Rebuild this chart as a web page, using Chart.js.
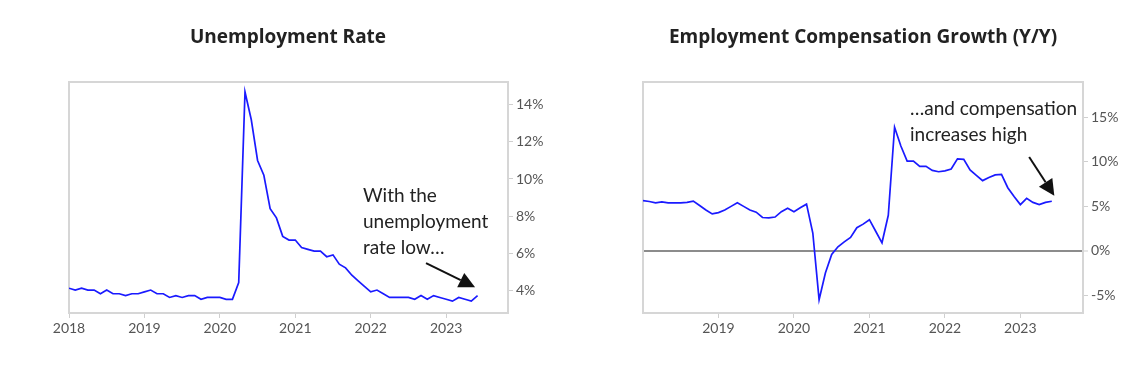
<!DOCTYPE html>
<html><head><meta charset="utf-8">
<script src="https://cdn.jsdelivr.net/npm/chart.js@4.4.0/dist/chart.umd.min.js"></script>
<style>
body{margin:0;background:#fff;width:1146px;height:373px;overflow:hidden;position:relative;}
canvas{position:absolute;top:0;}
.title{position:absolute;top:23px;font-family:'Open Sans',sans-serif;font-weight:700;font-size:19px;color:#222;transform:translateX(-50%);white-space:nowrap;}
.note{position:absolute;font-family:Lato,sans-serif;font-size:19px;line-height:26px;color:#222;white-space:nowrap;}
</style></head><body>
<canvas id="c1" width="573" height="373" style="left:0"></canvas>
<canvas id="c2" width="573" height="373" style="left:573px"></canvas>
<div class="title" style="left:288px">Unemployment Rate</div>
<div class="title" style="left:863px">Employment Compensation Growth (Y/Y)</div>
<div class="note" style="left:363px;top:182px">With the<br>unemployment<br>rate low…</div>
<div class="note" style="left:910px;top:95px">…and compensation<br>increases high</div>
<script>
// ---- data ----
const unempStart = "2017-12";   // monthly, plotted at month end
const compStart = "2018-01";    // monthly, plotted at month start
const unempRate = [4.1,4.0,4.1,4.0,4.0,3.8,4.0,3.8,3.8,3.7,3.8,3.8,3.9,
  4.0,3.8,3.8,3.6,3.7,3.6,3.7,3.7,3.5,3.6,3.6,3.6,
  3.5,3.5,4.4,14.7,13.2,11.0,10.2,8.4,7.9,6.9,6.7,6.7,
  6.3,6.2,6.1,6.1,5.8,5.9,5.4,5.2,4.8,4.5,4.2,3.9,
  4.0,3.8,3.6,3.6,3.6,3.6,3.5,3.7,3.5,3.7,3.6,3.5,
  3.4,3.6,3.5,3.4,3.7];
const compGrowth = [5.65,5.55,5.4,5.5,5.4,5.4,5.4,5.45,5.6,5.1,4.6,4.15,
  4.3,4.6,5.0,5.4,5.0,4.6,4.35,3.75,3.7,3.8,4.4,4.8,
  4.4,4.85,5.25,2.0,-5.5,-2.5,-0.4,0.45,1.0,1.5,2.6,3.0,
  3.5,2.2,0.9,4.0,13.9,11.8,10.1,10.1,9.5,9.5,9.05,8.9,
  9.0,9.2,10.35,10.3,9.1,8.5,7.9,8.25,8.55,8.6,7.1,6.1,
  5.2,5.9,5.45,5.2,5.45,5.58];
const unempYTicks = [4,6,8,10,12,14];
const compYTicks = [-5,0,5,10,15];
const unempYearTicks = [2018,2019,2020,2021,2022,2023];
const compYearTicks = [2019,2020,2021,2022,2023];

// month labels -> decimal-year positions
function monthLabels(start, n){
  let [y,m] = start.split('-').map(Number); const out=[];
  for(let i=0;i<n;i++){ out.push(y+'-'+String(m).padStart(2,'0')); m++; if(m>12){m=1;y++;} }
  return out;
}
const unempMonths = monthLabels(unempStart, unempRate.length);
const compMonths = monthLabels(compStart, compGrowth.length);
function pos(label, endOfMonth){ const [y,m]=label.split('-').map(Number); return y + (m - (endOfMonth?0:1))/12; }

Chart.defaults.font.family = 'Lato, sans-serif';
Chart.defaults.font.size = 14;
Chart.defaults.color = '#555';

const boxPlugin = {
  id:'box',
  beforeDatasetsDraw(chart){
    const a = chart.chartArea, ctx = chart.ctx;
    ctx.save(); ctx.strokeStyle = '#d6d6d6'; ctx.lineWidth = 2;
    ctx.strokeRect(a.left, a.top, a.right-a.left, a.bottom-a.top);
    ctx.restore();
  }
};
const arrowPlugin = {
  id:'arrow',
  afterDatasetsDraw(chart, args, opts){
    if(!opts.from) return;
    const xs = chart.scales.x, ys = chart.scales.y, ctx = chart.ctx;
    const x1 = xs.getPixelForValue(opts.from[0]), y1 = ys.getPixelForValue(opts.from[1]);
    const x2 = xs.getPixelForValue(opts.to[0]), y2 = ys.getPixelForValue(opts.to[1]);
    const ang = Math.atan2(y2-y1, x2-x1), L = 16, W = 8;
    const bx = x2 - L*Math.cos(ang), by = y2 - L*Math.sin(ang);
    ctx.save(); ctx.strokeStyle = '#111'; ctx.fillStyle = '#111'; ctx.lineWidth = 2;
    ctx.beginPath(); ctx.moveTo(x1,y1); ctx.lineTo(bx,by); ctx.stroke();
    ctx.beginPath(); ctx.moveTo(x2,y2);
    ctx.lineTo(bx + W*Math.sin(ang), by - W*Math.cos(ang));
    ctx.lineTo(bx - W*Math.sin(ang), by + W*Math.cos(ang));
    ctx.closePath(); ctx.fill(); ctx.restore();
  }
};

function makeChart(id, months, endOfMonth, values, yMin, yMax, yTicks, xTicks, xMax, pad, arrow, zeroLine){
  return new Chart(document.getElementById(id), {
    type:'line',
    data:{ datasets:[{ data: months.map((mo,i)=>({x:pos(mo,endOfMonth), y:values[i]})),
      borderColor:'#1a1aff', borderWidth:1.7, pointRadius:0, tension:0, fill:false }] },
    options:{
      responsive:false, animation:false, devicePixelRatio:1,
      layout:{ padding:{ left:pad.left, top:82, right:0, bottom:0 } },
      plugins:{ legend:{display:false}, tooltip:{enabled:false}, arrow },
      scales:{
        x:{ type:'linear', min:2018, max:xMax,
          afterBuildTicks: s => { s.ticks = xTicks.map(v=>({value:v})); },
          afterFit: s => { s.height = 60; },
          ticks:{ callback: v => String(v), padding:2, maxRotation:0, autoSkip:false },
          grid:{ drawOnChartArea:false, drawTicks:true, tickLength:5, color:'#cfcfcf' },
          border:{ display:false } },
        y:{ type:'linear', position:'right', min:yMin, max:yMax,
          afterBuildTicks: s => { s.ticks = yTicks.map(v=>({value:v})); },
          afterFit: s => { s.width = pad.right; },
          ticks:{ callback: v => v + '%', padding:3 },
          grid:{ drawOnChartArea: zeroLine, drawTicks:true, tickLength:5, tickColor:'#cfcfcf', tickWidth:1,
            color: c => (zeroLine && c.tick && c.tick.value === 0) ? '#8c8c8c' : 'rgba(0,0,0,0)',
            lineWidth: c => (c.tick && c.tick.value === 0) ? 2 : 1 },
          border:{ display:false } }
      }
    },
    plugins:[boxPlugin, arrowPlugin]
  });
}

makeChart('c1', unempMonths, true, unempRate, 2.76, 15.24, unempYTicks, unempYearTicks, 2023.82,
  {left:69, right:65}, {from:[2018+56.8/12, 5.46], to:[2018+64.6/12, 4.15]}, false);
makeChart('c2', compMonths, false, compGrowth, -7, 19, compYTicks, compYearTicks, 2023.83,
  {left:70, right:63}, {from:[2018+61.4/12, 10.56], to:[2018+65.4/12, 6.2]}, true);
</script>
</body></html>
